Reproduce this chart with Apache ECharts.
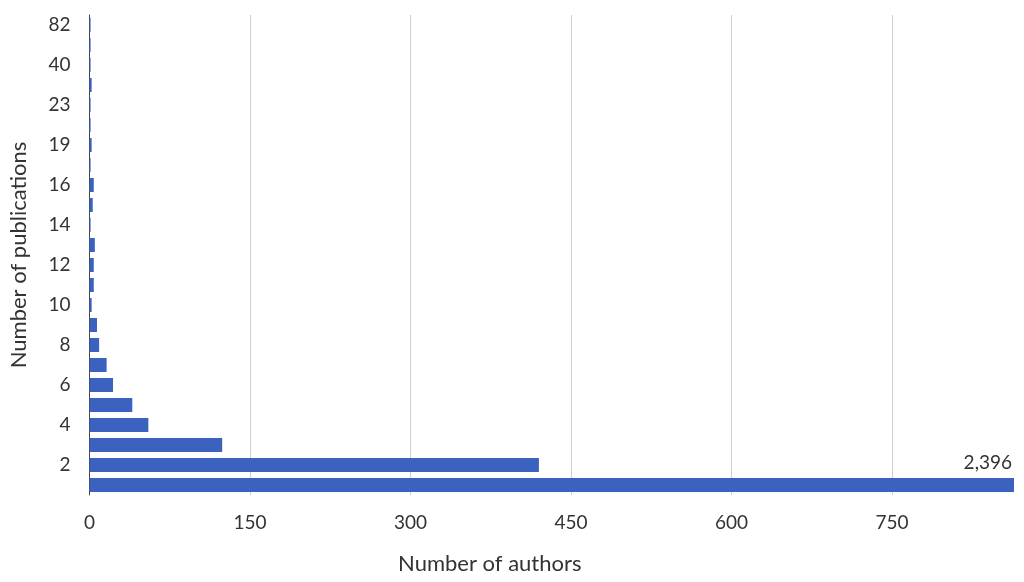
<!DOCTYPE html>
<html><head><meta charset="utf-8">
<script src="https://cdn.jsdelivr.net/npm/echarts@6/dist/echarts.min.js"></script>
<style>html,body{margin:0;padding:0;background:#fff}#c{width:1024px;height:582px}</style>
</head><body><div id="c"></div>
<script>
const publications = ['1','2','3','4','5','6','7','8','9','10','11','12','13','14','15','16','17','19','21','23','28','40','50','82'];
const authors = [2396,420,124,55,40,22,16,9,7,2,4,4,5,1,3,4,1,2,1,1,2,1,1,1];
const xTicks = [0,150,300,450,600,750];
const xMax = 864;

const chart = echarts.init(document.getElementById('c'));
const font = 'Lato, "Open Sans", sans-serif';
chart.setOption({
  animation: false,
  grid: { left: 89.5, right: 10, top: 15, bottom: 87, containLabel: false, outerBoundsMode: 'none' },
  xAxis: {
    type: 'value', min: 0, max: xMax, interval: xTicks[1] - xTicks[0],
    name: 'Number of authors', nameLocation: 'middle', nameGap: 58,
    nameTextStyle: { fontFamily: font, fontSize: 22, color: '#333', padding: [0, 124, 0, 0] },
    axisLine: { show: false }, axisTick: { show: false },
    axisLabel: { fontFamily: font, fontSize: 19, color: '#333', margin: 18, showMaxLabel: false,
      formatter: v => xTicks.includes(v) ? String(v) : '' },
    splitLine: { show: true, showMaxLine: false, lineStyle: { color: '#cfcfcf', width: 1 } }
  },
  yAxis: {
    type: 'category', data: publications,
    name: 'Number of publications', nameLocation: 'middle', nameGap: 60,
    nameTextStyle: { fontFamily: font, fontSize: 22, color: '#333' },
    axisLine: { show: true, lineStyle: { color: '#444', width: 1 } },
    axisTick: { show: false },
    axisLabel: { fontFamily: font, fontSize: 19, color: '#333', margin: 19,
      interval: (i) => i % 2 === 1 }
  },
  series: [{
    type: 'bar', clip: true, barCategoryGap: '30%',
    itemStyle: { color: '#3A62BE' },
    data: authors.map((v, i) => i === 0 ? {
      value: v,
      label: { show: true, position: 'insideRight', offset: [0, -22], distance: 2,
        fontFamily: font, fontSize: 19, color: '#333',
        formatter: p => p.value.toLocaleString('en-US') }
    } : v)
  }]
});
</script></body></html>
